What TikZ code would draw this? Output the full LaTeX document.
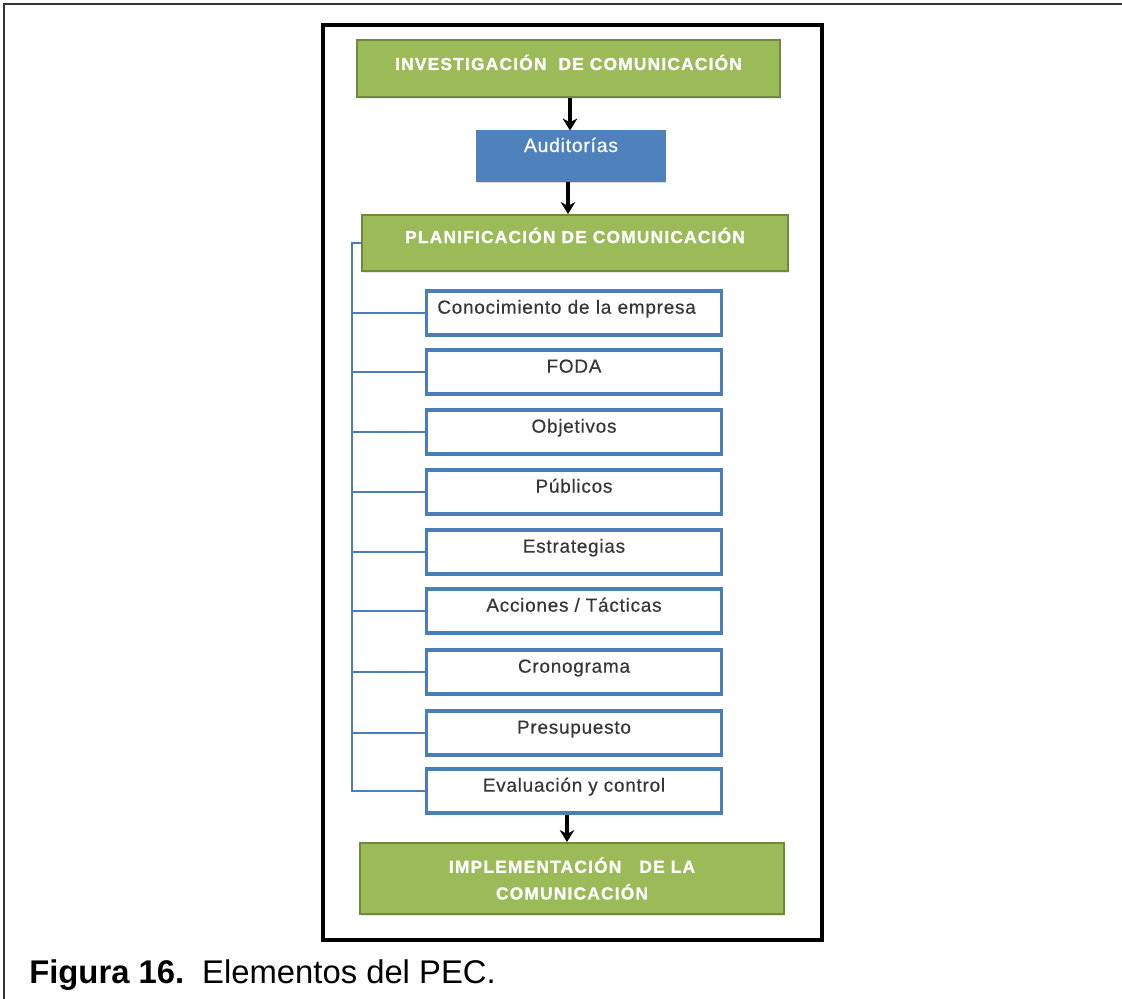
\documentclass[tikz,border=0pt]{standalone}
\usepackage{fontspec}
\setmainfont{Liberation Sans}
\newfontfamily\headfont{Liberation Sans}[UprightFont={* Bold}, LetterSpace=7, FakeBold=1.2]
\newfontfamily\itemfont{Liberation Sans}[LetterSpace=4, FakeBold=0.4]
\usetikzlibrary{arrows.meta,shadows}

\definecolor{greenfill}{HTML}{9BBB59}
\definecolor{greenline}{HTML}{71893F}
\definecolor{bluefill}{HTML}{4F81BD}
\definecolor{blueline}{HTML}{4A7EBB}
\definecolor{itemtext}{HTML}{363636}
\definecolor{framegray}{HTML}{333333}

\tikzset{
  headbox/.style={draw=greenline, line width=1.5pt, fill=greenfill, text=white,
    font=\headfont\fontsize{13}{20}\selectfont, align=center,
    inner sep=0pt, drop shadow={opacity=0.2, shadow xshift=0.8pt, shadow yshift=-1.2pt}},
  auditbox/.style={draw=bluefill, line width=0.8pt, fill=bluefill, text=white,
    font=\itemfont\fontsize{14.5}{16}\selectfont, inner sep=0pt,
    minimum width=141pt, minimum height=37.5pt, text height=9pt, text depth=15pt,
    drop shadow={opacity=0.3, shadow xshift=1pt, shadow yshift=-1.5pt}},
  itembox/.style={draw=blueline, line width=2.6pt, fill=white, text=itemtext,
    font=\itemfont\fontsize{14.2}{16}\selectfont, inner sep=0pt,
    minimum width=221pt, minimum height=33pt, text height=10pt, text depth=9pt},
  flow/.style={line width=2.8pt, -{Stealth[length=9pt,width=11pt]}},
  bracket/.style={draw=blueline, line width=1.1pt},
}

\begin{document}
\begin{tikzpicture}[x=0.75pt, y=-0.75pt]
  \useasboundingbox (0,0) rectangle (1122,999);

  % page frame: top and left rules
  \draw[framegray, line width=1.6pt] (4,1010) -- (4,4) -- (1130,4);
  % frame around the diagram
  \draw[black, line width=2.3pt] (323,25) rectangle (822,940);

  % stages
  \node[headbox, minimum width=317.25pt, minimum height=42.75pt,
        text height=9pt, text depth=6.75pt] (inv) at (568.5,68.5)
        {INVESTIGACIÓN\ \ DE COMUNICACIÓN};
  \node[auditbox] (aud) at (571,156) {Auditorías};
  \node[headbox, minimum width=319.5pt, minimum height=42pt,
        text height=8pt, text depth=8pt] (plan) at (575,243)
        {PLANIFICACIÓN DE COMUNICACIÓN};

  % planning elements
  \node[itembox, text width=205pt, align=left] (i1) at (574,313) {Conocimiento de la empresa};
  \node[itembox] (i2) at (574,372) {FODA};
  \node[itembox] (i3) at (574,432) {Objetivos};
  \node[itembox] (i4) at (574,492) {Públicos};
  \node[itembox] (i5) at (574,552) {Estrategias};
  \node[itembox] (i6) at (574,611) {Acciones / Tácticas};
  \node[itembox] (i7) at (574,672) {Cronograma};
  \node[itembox] (i8) at (574,733) {Presupuesto};
  \node[itembox] (i9) at (574,791) {Evaluación y control};

  \node[headbox, minimum width=318pt, minimum height=53.25pt] (imp) at (572,878.5)
        {IMPLEMENTACIÓN\ \ \ DE LA\\COMUNICACIÓN};

  % flow arrows
  \draw[flow] (inv.south -| 570,0) -- (aud.north -| 570,0);
  \draw[flow] (aud.south -| 568,0) -- (plan.north -| 568,0);
  \draw[flow] (i9.south -| 567,0) -- (imp.north -| 567,0);

  % bracket joining the planning elements
  \coordinate (bk) at (352,243);
  \draw[bracket] (plan.west) -- (bk) -- (bk |- i9.west) -- (i9.west);
  \foreach \k in {1,...,8} {
    \draw[bracket] (bk |- i\k.west) -- (i\k.west);
  }

  % caption
  \node[anchor=base west, inner sep=0pt, font=\fontsize{24.6}{28}\selectfont] (cap) at (29,983)
    {\textbf{Figura 16.}\hspace{0.55em}Elementos del PEC.};
\end{tikzpicture}
\end{document}
